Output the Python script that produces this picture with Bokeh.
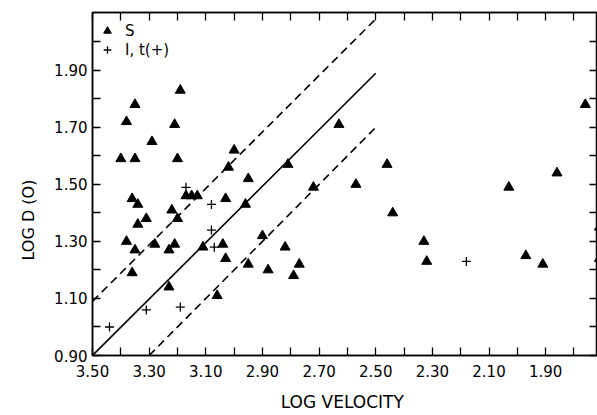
from bokeh.plotting import figure
from bokeh.models import (Range1d, LinearAxis, FixedTicker, Legend, LegendItem, Title)
from bokeh.embed import file_html
from bokeh.resources import INLINE

# ---- data ----
s_logv = [3.19, 3.35, 3.38, 3.21, 3.29, 3.40, 3.35, 3.20, 3.00, 3.02, 2.81, 2.95, 2.72,
          3.17, 3.15, 3.13, 3.36, 3.34, 3.03, 2.96, 3.22, 3.31, 3.20, 3.34, 3.38, 3.28,
          3.21, 3.23, 3.35, 3.11, 3.04, 3.03, 3.06, 3.36, 3.23, 2.95, 2.88, 2.90, 2.82,
          2.79, 2.77, 2.63, 2.57, 2.46, 2.44, 2.33, 2.32, 2.03, 1.97, 1.91, 1.86, 1.76,
          1.71, 1.71]
s_logd = [1.83, 1.78, 1.72, 1.71, 1.65, 1.59, 1.59, 1.59, 1.62, 1.56, 1.57, 1.52, 1.49,
          1.46, 1.46, 1.46, 1.45, 1.43, 1.45, 1.43, 1.41, 1.38, 1.38, 1.36, 1.30, 1.29,
          1.29, 1.27, 1.27, 1.28, 1.29, 1.24, 1.11, 1.19, 1.14, 1.22, 1.20, 1.32, 1.28,
          1.18, 1.22, 1.71, 1.50, 1.57, 1.40, 1.30, 1.23, 1.49, 1.25, 1.22, 1.54, 1.78,
          1.35, 1.24]

it_logv = [3.17, 3.08, 3.08, 3.07, 3.19, 3.31, 3.44, 2.18]
it_logd = [1.49, 1.43, 1.34, 1.28, 1.07, 1.06, 1.00, 1.23]

# reference lines (log velocity endpoints, log D endpoints)
solid_x = [3.50, 2.50]
solid_y = [0.90, 1.89]
upper_x = [3.50, 2.50]
upper_y = [1.09, 2.08]
lower_x = [3.30, 2.50]
lower_y = [0.90, 1.70]

x_major = [3.50, 3.30, 3.10, 2.90, 2.70, 2.50, 2.30, 2.10, 1.90]
x_minor = [3.40, 3.20, 3.00, 2.80, 2.60, 2.40, 2.20, 2.00, 1.80]
y_major = [0.90, 1.10, 1.30, 1.50, 1.70, 1.90]
y_minor = [1.00, 1.20, 1.40, 1.60, 1.80, 2.00]

FONT = "DejaVu Sans"

p = figure(width=597, height=415, output_backend="svg", toolbar_location=None,
           x_range=Range1d(3.50, 1.717), y_range=Range1d(0.90, 2.103),
           min_border_left=92, min_border_right=0, min_border_top=12, min_border_bottom=60,
           x_axis_location=None, y_axis_location=None)
p.grid.visible = False
p.outline_line_color = "black"
p.outline_line_width = 1.5
p.background_fill_color = "white"
p.border_fill_color = "white"


def style_axis(ax):
    ax.axis_line_color = "black"
    ax.axis_line_width = 1.5
    ax.major_tick_in = 8
    ax.major_tick_out = 0
    ax.minor_tick_in = 8
    ax.minor_tick_out = 0
    ax.major_tick_line_width = 1.3
    ax.minor_tick_line_width = 1.3
    ax.major_tick_line_color = "black"
    ax.minor_tick_line_color = "black"
    ax.major_label_text_font = FONT
    ax.major_label_text_color = "black"
    ax.axis_label_text_font = FONT
    ax.axis_label_text_font_style = "normal"
    ax.axis_label_text_color = "black"


xb = LinearAxis(ticker=FixedTicker(ticks=x_major, minor_ticks=x_minor))
style_axis(xb)
xb.major_label_text_font_size = "15px"
xb.major_label_standoff = 9
xb.major_label_overrides = {v: f"{v:.2f}" for v in x_major}
xb.axis_label = "LOG  VELOCITY"
xb.axis_label_text_font_size = "17px"
xb.axis_label_standoff = 12
p.add_layout(xb, "below")

yl = LinearAxis(ticker=FixedTicker(ticks=y_major, minor_ticks=y_minor))
style_axis(yl)
yl.major_label_text_font_size = "15px"
yl.major_label_standoff = 5
yl.major_label_overrides = {v: f"{v:.2f}" for v in y_major}
p.add_layout(yl, "left")

x_all = x_major + x_minor
y_all = y_major + y_minor
xt = LinearAxis(ticker=FixedTicker(ticks=x_all, minor_ticks=[]))
style_axis(xt)
xt.major_label_overrides = {v: "" for v in x_all}
xt.major_label_standoff = 0
p.add_layout(xt, "above")

yr = LinearAxis(ticker=FixedTicker(ticks=y_all, minor_ticks=[]))
style_axis(yr)
yr.major_label_overrides = {v: "" for v in y_all}
yr.major_label_standoff = 0
p.add_layout(yr, "right")

# lines
p.line(solid_x, solid_y, line_color="black", line_width=1.6)
p.line(upper_x, upper_y, line_color="black", line_width=1.6, line_dash="8 5")
p.line(lower_x, lower_y, line_color="black", line_width=1.6, line_dash="8 5")

# points
r_s = p.scatter(s_logv, s_logd, marker="triangle", size=10, fill_color="black",
                line_color="black")
r_i = p.scatter(it_logv, it_logd, marker="cross", size=9, line_color="black",
                line_width=1.3)

legend = Legend(items=[LegendItem(label="S", renderers=[r_s]),
                       LegendItem(label="I, t(+)", renderers=[r_i])],
                location=(3, 296))
legend.margin = 0
legend.padding = 3
legend.glyph_width = 24
legend.glyph_height = 19
legend.label_height = 19
legend.spacing = 0
legend.label_standoff = 6
legend.label_text_font = FONT
legend.label_text_font_size = "15px"
legend.label_text_color = "black"
legend.border_line_color = None
legend.background_fill_alpha = 0
p.add_layout(legend)

ytitle = Title(text="LOG  D  (O)", align="left", offset=95, text_font=FONT,
               text_font_size="16px", text_font_style="normal", text_color="black",
               standoff=27)
p.add_layout(ytitle, "left")

open("out.html", "w").write(file_html(p, INLINE))
